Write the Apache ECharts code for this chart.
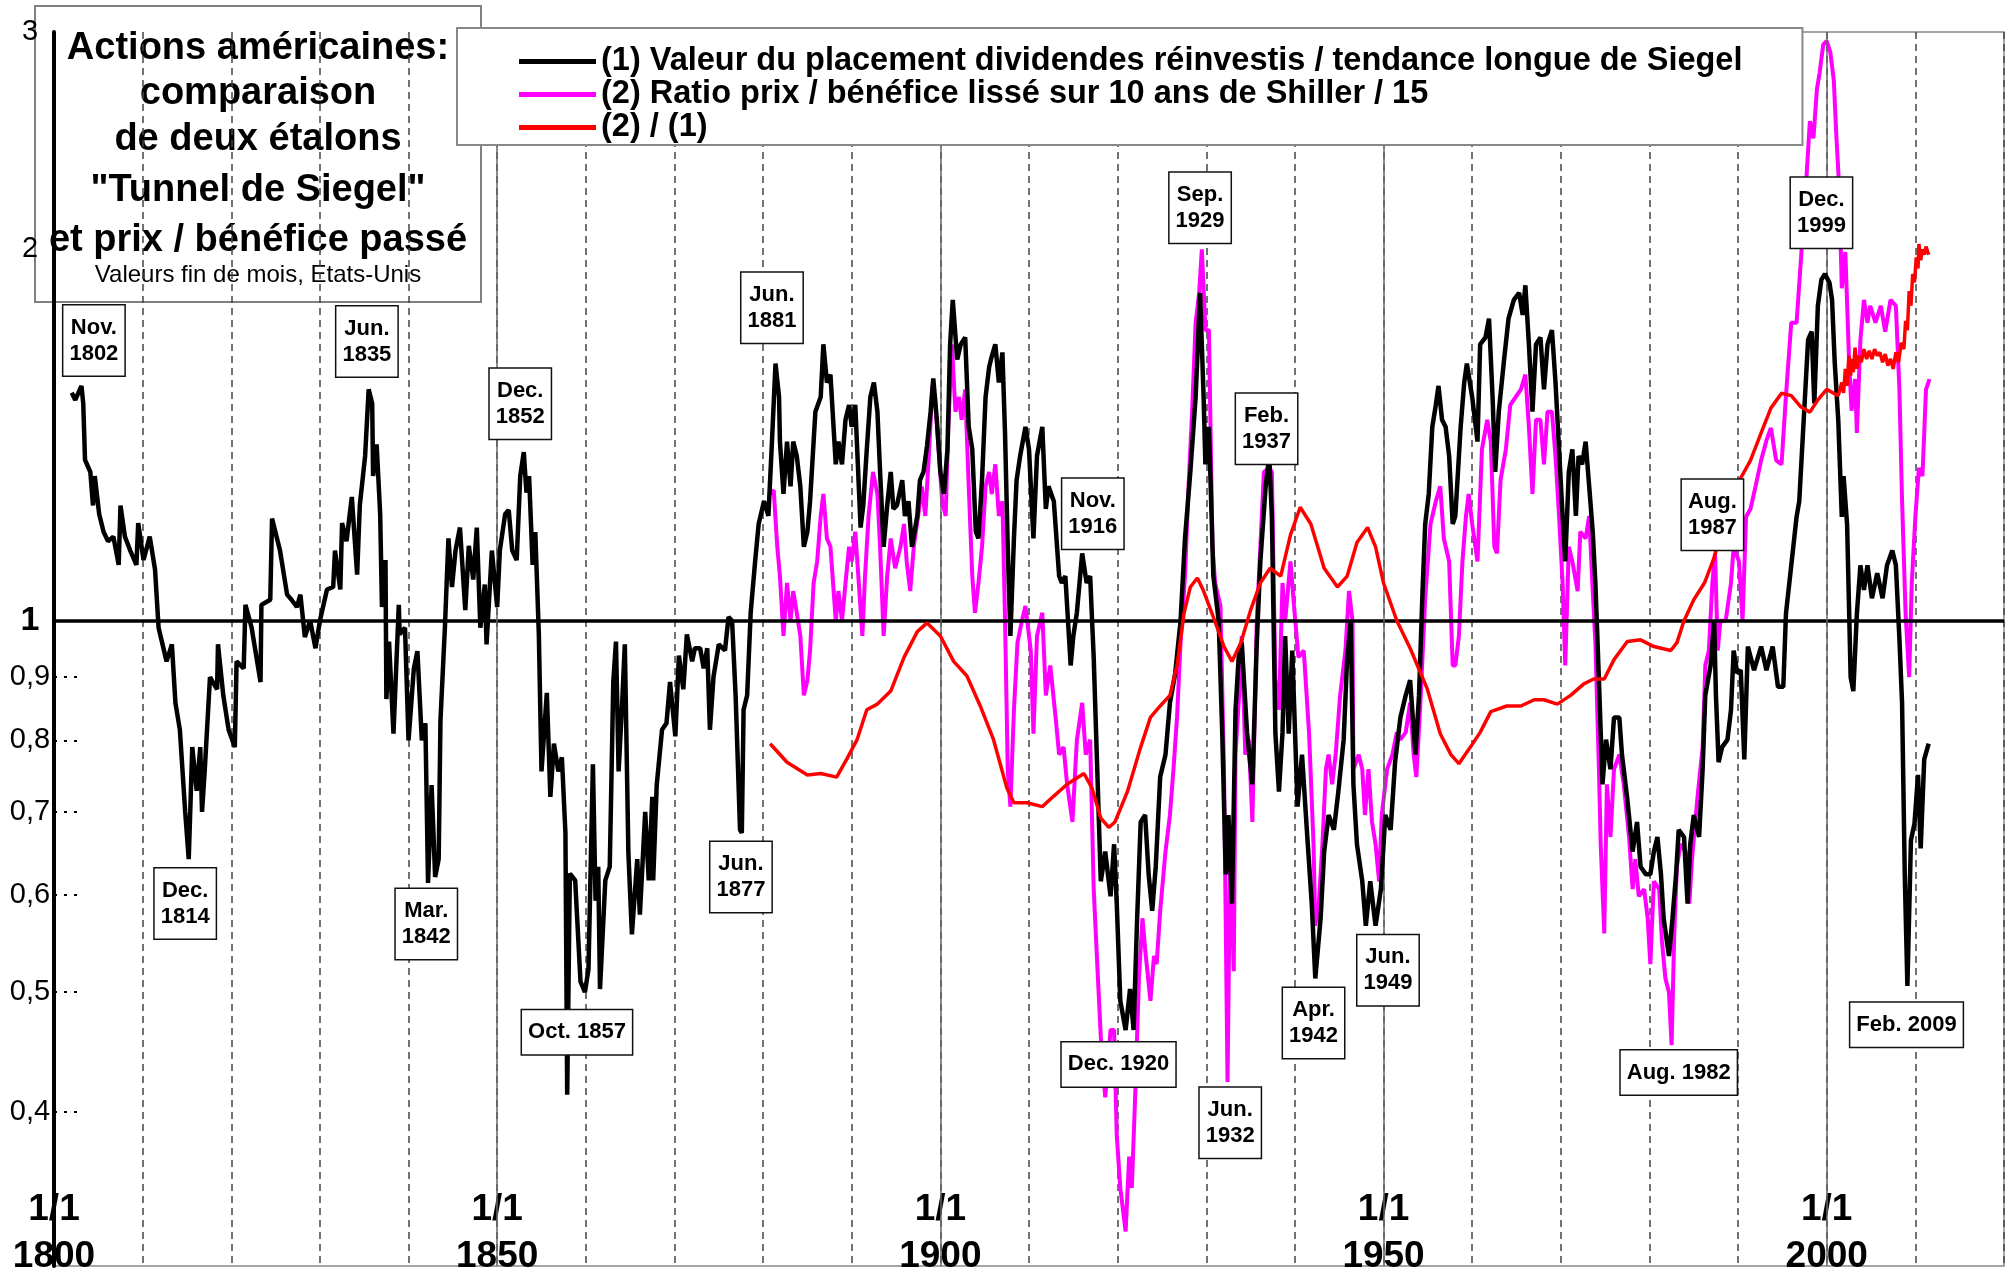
<!DOCTYPE html>
<html>
<head>
<meta charset="utf-8">
<script src="https://cdn.jsdelivr.net/npm/echarts@6/dist/echarts.min.js"></script>
<style>
html,body{margin:0;padding:0;background:#fff;}
#chart{width:2009px;height:1280px;}
</style>
</head>
<body>
<div id="chart"></div>
<script>
// ---------- DATA ----------
const seriesNames = [
  "(1) Valeur du placement dividendes réinvestis / tendance longue de Siegel",
  "(2) Ratio prix / bénéfice lissé sur 10 ans de Shiller / 15",
  "(2) / (1)"
];

// (1) black : [year, value]
const siegelRatio = [
[1802.0,1.53],[1802.4,1.51],[1803.1,1.55],[1803.3,1.50],[1803.5,1.35],[1804.1,1.32],[1804.4,1.24],[1804.6,1.31],
[1805.1,1.22],[1805.6,1.18],[1806.1,1.16],[1806.7,1.17],[1807.3,1.11],[1807.5,1.24],[1808.0,1.17],[1808.6,1.14],
[1809.3,1.11],[1809.5,1.20],[1810.1,1.12],[1810.8,1.17],[1811.4,1.10],[1811.8,0.987],[1812.7,0.927],[1813.3,0.957],
[1813.7,0.858],[1814.2,0.816],[1814.8,0.70],[1815.2,0.641],[1815.6,0.79],[1816.1,0.728],[1816.5,0.79],[1816.7,0.70],
[1817.0,0.755],[1817.6,0.90],[1818.4,0.88],[1818.5,0.957],[1819.1,0.87],[1819.7,0.816],[1820.4,0.79],[1820.6,0.927],
[1821.4,0.915],[1821.6,1.03],[1822.3,0.987],[1823.3,0.892],[1823.4,1.03],[1824.4,1.04],[1824.6,1.21],[1825.5,1.14],
[1826.3,1.05],[1826.8,1.04],[1827.4,1.026],[1827.8,1.05],[1828.3,0.97],[1828.9,1.0],[1829.5,0.95],[1830.0,1.0],
[1830.8,1.06],[1831.5,1.065],[1831.7,1.14],[1832.3,1.06],[1832.5,1.20],[1833.0,1.16],[1833.6,1.26],[1834.2,1.09],
[1834.5,1.24],[1835.1,1.36],[1835.5,1.54],[1835.9,1.50],[1836.0,1.31],[1836.4,1.39],[1836.8,1.22],[1837.0,1.026],
[1837.4,1.12],[1837.5,0.864],[1837.8,0.962],[1838.3,0.81],[1838.9,1.03],[1839.0,0.975],[1839.6,0.987],[1840.0,0.80],
[1840.6,0.915],[1841.0,0.945],[1841.5,0.80],[1841.9,0.826],[1842.2,0.613],[1842.6,0.736],[1843.0,0.62],[1843.4,0.641],
[1843.6,0.83],[1844.1,0.987],[1844.5,1.166],[1844.9,1.065],[1845.3,1.14],[1845.8,1.19],[1846.4,1.02],[1846.8,1.15],
[1847.3,1.08],[1847.7,1.19],[1848.1,0.987],[1848.6,1.07],[1848.8,0.957],[1849.4,1.14],[1850.0,1.026],[1850.3,1.14],
[1850.9,1.22],[1851.3,1.23],[1851.7,1.14],[1852.2,1.12],[1852.6,1.31],[1853.0,1.37],[1853.3,1.27],[1853.6,1.31],
[1854.0,1.11],[1854.3,1.18],[1854.7,0.975],[1855.0,0.755],[1855.6,0.874],[1856.0,0.72],[1856.4,0.795],[1856.9,0.755],
[1857.3,0.775],[1857.7,0.673],[1857.9,0.413],[1858.2,0.624],[1858.8,0.616],[1859.4,0.51],[1859.9,0.50],[1860.3,0.522],
[1860.8,0.765],[1861.1,0.593],[1861.4,0.632],[1861.6,0.503],[1862.2,0.616],[1862.7,0.632],[1863.1,0.892],[1863.4,0.962],
[1863.7,0.755],[1864.1,0.858],[1864.4,0.957],[1864.8,0.649],[1865.2,0.557],[1865.8,0.641],[1866.1,0.578],[1866.7,0.70],
[1867.1,0.616],[1867.5,0.72],[1867.6,0.616],[1868.0,0.736],[1868.6,0.816],[1869.1,0.826],[1869.5,0.892],[1870.1,0.806],
[1870.5,0.937],[1871.0,0.88],[1871.4,0.975],[1872.0,0.927],[1872.3,0.95],[1872.9,0.95],[1873.3,0.915],[1873.7,0.95],
[1874.0,0.816],[1874.4,0.90],[1875.0,0.957],[1875.2,0.96],[1875.7,0.946],[1876.1,1.007],[1876.5,1.0],[1876.9,0.87],
[1877.4,0.677],[1877.6,0.673],[1877.8,0.847],[1878.2,0.87],[1878.6,1.015],[1879.1,1.117],[1879.5,1.198],[1880.1,1.25],
[1880.6,1.216],[1881.0,1.397],[1881.4,1.616],[1881.8,1.518],[1881.9,1.397],[1882.3,1.267],[1882.7,1.397],[1883.1,1.285],
[1883.4,1.397],[1883.8,1.36],[1884.2,1.285],[1884.6,1.148],[1885.0,1.181],[1885.3,1.25],[1885.9,1.477],[1886.5,1.518],
[1886.8,1.675],[1887.2,1.56],[1887.6,1.583],[1888.2,1.339],[1888.5,1.397],[1888.9,1.339],[1889.3,1.455],[1889.7,1.496],
[1890.0,1.436],[1890.4,1.496],[1891.0,1.19],[1891.3,1.24],[1891.7,1.377],[1892.1,1.518],[1892.5,1.56],[1892.9,1.477],
[1893.2,1.32],[1893.6,1.148],[1894.0,1.24],[1894.4,1.32],[1894.7,1.232],[1895.1,1.24],[1895.7,1.30],[1896.0,1.216],
[1896.4,1.25],[1896.8,1.148],[1897.4,1.216],[1897.7,1.30],[1898.1,1.32],[1898.5,1.387],[1898.9,1.477],[1899.2,1.572],
[1899.6,1.455],[1900.0,1.32],[1900.4,1.267],[1900.8,1.377],[1901.1,1.675],[1901.4,1.82],[1901.9,1.628],[1902.3,1.675],
[1902.8,1.697],[1903.2,1.436],[1903.6,1.377],[1904.0,1.181],[1904.3,1.166],[1904.7,1.30],[1905.1,1.518],[1905.5,1.605],
[1905.8,1.638],[1906.2,1.675],[1906.6,1.56],[1907.0,1.65],[1907.3,1.415],[1907.6,1.148],[1907.9,0.972],[1908.3,1.166],
[1908.6,1.30],[1909.0,1.36],[1909.6,1.436],[1910.0,1.377],[1910.5,1.166],[1910.9,1.36],[1911.5,1.436],[1911.9,1.232],
[1912.2,1.285],[1912.8,1.25],[1913.4,1.087],[1913.7,1.073],[1914.1,1.087],[1914.7,0.92],[1915.0,0.972],[1915.4,1.015],
[1916.0,1.134],[1916.5,1.073],[1916.9,1.087],[1917.3,0.934],[1917.7,0.758],[1918.1,0.615],[1918.6,0.65],[1919.2,0.598],
[1919.6,0.659],[1919.9,0.59],[1920.3,0.492],[1920.9,0.466],[1921.4,0.503],[1921.8,0.466],[1922.2,0.574],[1922.6,0.687],
[1923.1,0.696],[1923.5,0.623],[1923.9,0.582],[1924.3,0.632],[1924.8,0.747],[1925.4,0.779],[1925.9,0.858],[1926.5,0.907],
[1927.1,1.0],[1927.6,1.166],[1928.2,1.32],[1928.8,1.518],[1929.3,1.844],[1929.7,1.518],[1929.9,1.339],[1930.3,1.436],
[1930.8,1.087],[1931.4,1.0],[1931.8,0.812],[1932.2,0.623],[1932.5,0.696],[1932.9,0.59],[1933.3,0.847],[1933.7,0.946],
[1934.0,0.96],[1934.6,0.812],[1935.2,0.737],[1935.7,0.96],[1936.1,1.117],[1936.7,1.285],[1937.1,1.36],[1937.4,1.216],
[1937.8,0.81],[1938.2,0.727],[1938.6,0.812],[1938.9,0.972],[1939.3,0.81],[1939.7,0.946],[1940.3,0.707],[1940.8,0.779],
[1941.4,0.668],[1941.9,0.59],[1942.3,0.513],[1942.9,0.574],[1943.3,0.65],[1943.8,0.696],[1944.4,0.677],[1944.9,0.727],
[1945.5,0.801],[1945.9,0.934],[1946.3,1.0],[1946.6,0.737],[1947.0,0.659],[1947.6,0.615],[1948.0,0.566],[1948.5,0.615],
[1949.1,0.566],[1949.7,0.606],[1950.2,0.696],[1950.8,0.677],[1951.3,0.768],[1951.9,0.835],[1952.5,0.87],[1953.0,0.895],
[1953.6,0.779],[1954.0,0.87],[1954.4,1.057],[1954.7,1.198],[1955.1,1.267],[1955.5,1.436],[1955.9,1.496],[1956.2,1.55],
[1956.6,1.455],[1957.0,1.436],[1957.4,1.36],[1957.8,1.198],[1958.1,1.216],[1958.7,1.436],[1959.1,1.56],[1959.4,1.616],
[1960.0,1.518],[1960.6,1.397],[1960.9,1.675],[1961.5,1.697],[1961.9,1.757],[1962.3,1.518],[1962.6,1.32],[1963.0,1.477],
[1963.6,1.628],[1964.1,1.757],[1964.7,1.82],[1965.3,1.844],[1965.7,1.77],[1966.0,1.87],[1966.4,1.675],[1966.8,1.477],
[1967.2,1.675],[1967.7,1.697],[1968.1,1.54],[1968.5,1.675],[1969.0,1.72],[1969.4,1.56],[1969.8,1.377],[1970.2,1.216],
[1970.5,1.117],[1970.9,1.32],[1971.3,1.377],[1971.7,1.216],[1972.0,1.36],[1972.4,1.339],[1972.8,1.397],[1973.2,1.285],
[1973.6,1.181],[1973.9,1.073],[1974.3,0.895],[1974.7,0.737],[1975.1,0.801],[1975.6,0.758],[1976.0,0.835],[1976.6,0.835],
[1976.9,0.779],[1977.5,0.717],[1978.1,0.65],[1978.6,0.687],[1979.0,0.632],[1979.6,0.623],[1980.1,0.623],[1980.5,0.65],
[1980.9,0.668],[1981.3,0.623],[1981.6,0.574],[1982.2,0.535],[1982.6,0.574],[1983.0,0.623],[1983.3,0.677],[1983.9,0.668],
[1984.3,0.59],[1984.6,0.659],[1985.0,0.696],[1985.6,0.668],[1986.0,0.758],[1986.3,0.87],[1986.9,0.92],[1987.3,1.0],
[1987.5,0.87],[1987.8,0.768],[1988.2,0.79],[1988.8,0.801],[1989.2,0.847],[1989.5,0.946],[1989.9,0.907],[1990.3,0.912],
[1990.7,0.772],[1991.1,0.953],[1991.8,0.912],[1992.6,0.953],[1993.2,0.912],[1993.9,0.953],[1994.5,0.884],[1995.1,0.884],
[1995.4,1.013],[1996.0,1.109],[1996.6,1.214],[1996.9,1.25],[1997.3,1.41],[1997.9,1.69],[1998.3,1.715],[1998.6,1.50],
[1999.0,1.80],[1999.4,1.89],[1999.8,1.91],[2000.3,1.88],[2000.6,1.82],[2000.9,1.62],[2001.3,1.455],[2001.7,1.214],
[2001.9,1.31],[2002.3,1.196],[2002.7,0.90],[2003.0,0.877],[2003.4,1.013],[2003.8,1.109],[2004.2,1.059],[2004.6,1.109],
[2005.1,1.043],[2005.7,1.093],[2006.3,1.043],[2006.8,1.109],[2007.4,1.14],[2007.8,1.109],[2008.2,0.967],[2008.5,0.858],
[2008.8,0.625],[2009.1,0.506],[2009.5,0.664],[2009.9,0.685],[2010.3,0.75],[2010.6,0.654],[2011.0,0.772],[2011.5,0.795]
];

// (2) magenta : Shiller CAPE / 15
const shillerRatio = [
[1880.8,1.267],[1881.2,1.276],[1881.6,1.148],[1881.9,1.087],[1882.3,0.972],[1882.7,1.073],[1883.1,1.0],[1883.4,1.057],
[1883.8,1.015],[1884.2,0.972],[1884.6,0.87],[1885.0,0.895],[1885.3,0.946],[1885.7,1.073],[1886.1,1.117],[1886.5,1.216],
[1886.8,1.267],[1887.2,1.166],[1887.6,1.148],[1888.2,1.0],[1888.5,1.057],[1888.9,1.0],[1889.3,1.073],[1889.7,1.148],
[1890.0,1.117],[1890.4,1.181],[1890.8,1.073],[1891.2,0.972],[1891.5,1.087],[1891.9,1.216],[1892.4,1.32],[1892.9,1.267],
[1893.2,1.148],[1893.6,0.972],[1894.0,1.087],[1894.4,1.166],[1894.9,1.103],[1895.5,1.148],[1895.9,1.198],[1896.2,1.117],
[1896.6,1.057],[1897.0,1.148],[1897.6,1.232],[1897.9,1.285],[1898.3,1.216],[1898.7,1.36],[1899.1,1.55],[1899.4,1.518],
[1899.8,1.377],[1900.2,1.25],[1900.6,1.216],[1900.9,1.436],[1901.3,1.675],[1901.7,1.477],[1902.1,1.518],[1902.4,1.455],
[1902.8,1.54],[1903.2,1.285],[1903.6,1.087],[1903.9,1.015],[1904.3,1.073],[1904.7,1.148],[1905.1,1.285],[1905.5,1.32],
[1905.8,1.267],[1906.2,1.339],[1906.6,1.216],[1907.0,1.25],[1907.3,1.0],[1907.6,0.758],[1907.9,0.707],[1908.3,0.847],
[1908.7,0.96],[1909.2,1.0],[1909.6,1.028],[1910.2,0.946],[1910.5,0.81],[1910.9,0.972],[1911.5,1.015],[1911.9,0.87],
[1912.4,0.92],[1913.0,0.835],[1913.4,0.779],[1913.9,0.79],[1914.3,0.737],[1914.9,0.687],[1915.4,0.80],[1916.0,0.858],
[1916.4,0.779],[1916.9,0.801],[1917.3,0.606],[1917.7,0.527],[1918.1,0.46],[1918.6,0.411],[1919.2,0.466],[1919.6,0.466],
[1919.9,0.383],[1920.3,0.347],[1920.9,0.32],[1921.3,0.368],[1921.6,0.347],[1922.0,0.416],[1922.4,0.513],[1922.8,0.574],
[1923.1,0.542],[1923.7,0.492],[1924.1,0.535],[1924.4,0.527],[1924.8,0.582],[1925.4,0.65],[1925.9,0.696],[1926.3,0.758],
[1926.7,0.835],[1927.1,0.96],[1927.6,1.087],[1928.0,1.285],[1928.4,1.477],[1928.8,1.744],[1929.2,1.844],[1929.5,2.0],
[1929.9,1.72],[1930.3,1.72],[1930.7,1.148],[1931.0,1.073],[1931.6,1.028],[1932.0,0.758],[1932.4,0.423],[1932.7,0.659],
[1933.1,0.52],[1933.3,0.779],[1933.7,0.87],[1934.0,0.972],[1934.4,0.779],[1934.8,0.801],[1935.2,0.687],[1935.7,1.0],
[1936.1,1.148],[1936.5,1.32],[1937.1,1.33],[1937.4,1.32],[1937.8,0.895],[1938.2,0.847],[1938.6,1.073],[1938.9,1.0],
[1939.5,1.117],[1939.9,1.028],[1940.4,0.934],[1941.0,0.946],[1941.6,0.81],[1942.1,0.659],[1942.3,0.566],[1942.7,0.59],
[1943.1,0.659],[1943.5,0.758],[1943.8,0.779],[1944.2,0.737],[1944.6,0.779],[1945.1,0.87],[1945.7,0.946],[1946.1,1.057],
[1946.5,1.0],[1946.6,0.758],[1947.2,0.779],[1947.6,0.758],[1947.9,0.696],[1948.3,0.758],[1948.7,0.687],[1949.1,0.659],
[1949.5,0.615],[1949.8,0.696],[1950.4,0.758],[1951.0,0.779],[1951.5,0.812],[1951.9,0.801],[1952.5,0.812],[1953.0,0.858],
[1953.4,0.779],[1953.7,0.747],[1954.2,0.87],[1954.7,1.043],[1955.3,1.198],[1955.9,1.25],[1956.4,1.285],[1956.8,1.166],
[1957.4,1.117],[1957.8,0.92],[1958.1,0.92],[1958.5,0.972],[1958.9,1.117],[1959.3,1.216],[1959.6,1.267],[1960.0,1.198],
[1960.6,1.117],[1961.1,1.377],[1961.7,1.455],[1962.1,1.397],[1962.5,1.148],[1962.8,1.134],[1963.2,1.30],[1963.8,1.377],
[1964.3,1.496],[1964.9,1.518],[1965.5,1.54],[1966.0,1.583],[1966.4,1.436],[1966.8,1.267],[1967.2,1.455],[1967.7,1.455],
[1968.1,1.339],[1968.5,1.477],[1969.0,1.477],[1969.4,1.36],[1969.8,1.216],[1970.2,1.073],[1970.5,0.92],[1970.9,1.148],
[1971.3,1.117],[1971.9,1.057],[1972.2,1.181],[1972.8,1.166],[1973.2,1.216],[1973.6,1.057],[1973.9,0.96],[1974.3,0.758],
[1974.5,0.659],[1974.9,0.558],[1975.2,0.737],[1975.6,0.668],[1976.0,0.758],[1976.6,0.779],[1977.1,0.737],[1977.7,0.668],
[1978.1,0.606],[1978.4,0.641],[1978.8,0.598],[1979.4,0.606],[1979.8,0.574],[1980.1,0.527],[1980.5,0.615],[1981.1,0.606],
[1981.4,0.551],[1981.8,0.513],[1982.2,0.50],[1982.5,0.453],[1982.8,0.558],[1983.1,0.632],[1983.5,0.659],[1984.1,0.65],
[1984.5,0.59],[1984.8,0.641],[1985.4,0.717],[1986.0,0.79],[1986.3,0.92],[1986.7,0.946],[1987.1,1.073],[1987.4,1.134],
[1987.7,0.946],[1988.0,1.0],[1988.6,1.0],[1989.2,1.073],[1989.5,1.148],[1990.1,1.117],[1990.5,1.0],[1990.9,1.214],
[1991.4,1.232],[1992.0,1.288],[1992.6,1.349],[1993.2,1.40],[1993.7,1.433],[1994.3,1.349],[1994.9,1.339],[1995.4,1.522],
[1996.0,1.744],[1996.6,1.744],[1997.1,1.967],[1997.7,2.28],[1998.1,2.54],[1998.5,2.46],[1998.9,2.70],[1999.2,2.78],
[1999.6,2.93],[2000.0,2.95],[2000.4,2.89],[2000.8,2.74],[2001.1,2.46],[2001.4,2.25],[2001.7,1.86],[2002.1,1.99],
[2002.5,1.64],[2002.8,1.48],[2003.2,1.57],[2003.4,1.42],[2003.8,1.69],[2004.2,1.82],[2004.6,1.744],[2004.9,1.80],
[2005.5,1.744],[2006.1,1.80],[2006.6,1.715],[2007.2,1.82],[2007.8,1.80],[2008.2,1.54],[2008.5,1.25],[2008.9,1.013],
[2009.3,0.90],[2009.6,1.075],[2010.0,1.214],[2010.4,1.33],[2010.8,1.31],[2011.2,1.54],[2011.6,1.57]
];

// (2)/(1) red
const ratioOfRatios = [
[1880.8,0.795],[1882.7,0.768],[1885.0,0.75],[1886.5,0.752],[1888.3,0.747],[1889.5,0.774],[1890.6,0.801],[1891.7,0.847],
[1892.9,0.856],[1894.4,0.877],[1895.9,0.934],[1897.4,0.98],[1898.5,0.996],[1900.0,0.972],[1901.5,0.927],[1903.0,0.902],
[1904.5,0.853],[1906.0,0.801],[1907.5,0.732],[1908.3,0.712],[1909.8,0.712],[1911.5,0.707],[1912.8,0.721],[1914.3,0.737],
[1916.2,0.752],[1917.1,0.732],[1918.1,0.692],[1919.0,0.68],[1919.7,0.687],[1921.1,0.727],[1922.6,0.79],[1923.7,0.835],
[1924.8,0.853],[1925.9,0.87],[1926.7,0.92],[1927.5,1.015],[1928.2,1.065],[1929.0,1.083],[1929.7,1.057],[1930.8,1.007],
[1932.0,0.953],[1932.9,0.927],[1933.9,0.96],[1935.0,1.02],[1936.1,1.073],[1937.2,1.103],[1938.4,1.087],[1939.5,1.174],
[1940.6,1.236],[1941.8,1.198],[1943.3,1.103],[1944.8,1.065],[1945.9,1.087],[1947.0,1.157],[1948.2,1.19],[1949.1,1.148],
[1950.0,1.073],[1951.5,1.0],[1953.0,0.95],[1954.9,0.882],[1956.4,0.81],[1957.6,0.779],[1958.5,0.766],[1959.8,0.79],
[1960.9,0.812],[1962.1,0.844],[1963.9,0.853],[1965.5,0.853],[1967.0,0.863],[1968.1,0.863],[1969.6,0.856],[1971.1,0.87],
[1972.6,0.889],[1973.7,0.897],[1974.9,0.897],[1976.0,0.93],[1977.5,0.962],[1979.0,0.965],[1980.5,0.953],[1982.4,0.946],
[1983.1,0.96],[1983.9,1.0],[1985.0,1.04],[1986.2,1.073],[1987.3,1.125],[1988.4,1.207],[1989.9,1.29],[1991.4,1.349],
[1992.6,1.42],[1993.7,1.487],[1994.9,1.529],[1996.0,1.522],[1997.1,1.49],[1998.1,1.476],[1999.0,1.51],[2000.0,1.54],
[2001.3,1.522],[2001.7,1.56],[2001.9,1.53],[2002.1,1.60],[2002.3,1.55],[2002.5,1.64],[2002.7,1.58],[2002.8,1.63],
[2003.0,1.59],[2003.2,1.665],[2003.4,1.60],[2003.6,1.64],[2003.9,1.62],[2004.2,1.66],[2004.5,1.63],[2004.8,1.655],
[2005.1,1.63],[2005.4,1.66],[2005.7,1.64],[2006.0,1.65],[2006.3,1.62],[2006.6,1.645],[2006.9,1.61],[2007.2,1.63],
[2007.5,1.60],[2007.8,1.65],[2008.1,1.62],[2008.4,1.68],[2008.7,1.66],[2008.9,1.75],[2009.1,1.72],[2009.3,1.85],
[2009.5,1.80],[2009.7,1.91],[2009.9,1.88],[2010.1,1.97],[2010.3,1.93],[2010.4,2.02],[2010.6,1.96],[2010.8,2.00],
[2011.0,1.98],[2011.2,2.01],[2011.5,1.98]
];

// annotation boxes: anchor year, anchor value (data space), text
const annoYears  = [1804.5, 1814.8, 1835.3, 1842.0, 1852.6, 1859.0, 1877.5, 1881.0, 1917.2, 1920.1, 1929.3, 1932.7, 1936.8, 1942.1, 1950.5, 1983.3, 1987.1, 1999.4, 2009.0];
const annoValues = [1.687, 0.59, 1.684, 0.568, 1.499, 0.464, 0.62, 1.793, 1.221, 0.437, 2.161, 0.392, 1.431, 0.472, 0.521, 0.4305, 1.219, 2.141, 0.4706];
const annoLabels = ["Nov.\n1802","Dec.\n1814","Jun.\n1835","Mar.\n1842","Dec.\n1852","Oct. 1857","Jun.\n1877","Jun.\n1881","Nov.\n1916","Dec. 1920","Sep.\n1929","Jun.\n1932","Feb.\n1937","Apr.\n1942","Jun.\n1949","Aug. 1982","Aug.\n1987","Dec.\n1999","Feb. 2009"];

// axis ticks
const yLabelValues = [0.4, 0.5, 0.6, 0.7, 0.8, 0.9, 1, 2, 3];
const yDotTickValues = [0.4, 0.5, 0.6, 0.7, 0.8, 0.9];
const xLabelYears = [1800, 1850, 1900, 1950, 2000];
const solidYears = [1850, 1900, 1950, 2000];

const titleLines = ["Actions américaines:", "comparaison", "de deux étalons", "\"Tunnel de Siegel\"", "et prix / bénéfice passé"];
const subtitle = "Valeurs fin de mois, Etats-Unis";

// ---------- CHART ----------
const FONT = "'Liberation Sans', Arial, sans-serif";
const chart = echarts.init(document.getElementById('chart'), null, {renderer: 'canvas'});

const annoData = annoYears.map((y, i) => ({value: [y, annoValues[i]], name: annoLabels[i]}));

const titleChildren = [{
  type: 'rect', shape: {x: 35, y: 6, width: 446, height: 296},
  style: {fill: '#fff', stroke: '#808080', lineWidth: 2}
}];
const titleYs = [49, 94, 140, 191, 241];
titleLines.forEach((t, i) => titleChildren.push({
  type: 'text', x: 258, y: titleYs[i],
  style: {text: t, fill: '#000', font: "bold 38px " + FONT, textAlign: 'center', textVerticalAlign: 'middle'}
}));
titleChildren.push({
  type: 'text', x: 258, y: 275,
  style: {text: subtitle, fill: '#000', font: "24px " + FONT, textAlign: 'center', textVerticalAlign: 'middle'}
});

const option = {
  backgroundColor: '#fff',
  animation: false,
  grid: {left: 54, right: 5, top: 32, bottom: 2, show: true, borderColor: '#888', borderWidth: 1.5, backgroundColor: 'transparent'},
  legend: {
    data: seriesNames, orient: 'vertical', left: 457, top: 28,
    itemWidth: 77, itemHeight: 5, itemGap: 0, icon: 'rect', selectedMode: false,
    padding: [17, 60, 1, 62],
    backgroundColor: '#fff', borderColor: '#888', borderWidth: 2,
    textStyle: {fontSize: 32.5, fontWeight: 'bold', fontFamily: FONT, color: '#000', lineHeight: 32},
    z: 20
  },
  xAxis: {
    type: 'value', min: 1800, max: 2020, interval: 10,
    axisLine: {show: false}, axisTick: {show: false},
    splitLine: {show: true, lineStyle: {type: [7, 5], color: '#444', width: 1.5}},
    axisLabel: {
      show: true, inside: true, margin: -14, customValues: xLabelYears, showMinLabel: true,
      formatter: v => '1/1\n' + Math.round(v),
      fontSize: 37, fontWeight: 'bold', fontFamily: FONT, color: '#000', lineHeight: 47
    }
  },
  yAxis: {
    type: 'log', logBase: 10, min: 0.3, max: 3,
    axisLine: {show: true, lineStyle: {color: '#000', width: 4}},
    axisTick: {show: true, inside: true, length: 26, customValues: yDotTickValues, lineStyle: {color: '#000', width: 2, type: [3, 7]}},
    splitLine: {show: false},
    axisLabel: {
      show: true, customValues: yLabelValues, margin: 24, align: 'center',
      formatter: v => {
        const r = Math.round(v * 10) / 10;
        if (r === 1) return '{b|1}';
        return String(r).replace('.', ',');
      },
      fontSize: 29, fontFamily: FONT, color: '#000',
      rich: {b: {fontSize: 34, fontWeight: 'bold', fontFamily: FONT, color: '#000'}}
    }
  },
  series: [
    {
      name: seriesNames[0], type: 'line', data: siegelRatio, showSymbol: false, symbol: 'none',
      color: '#000', lineStyle: {color: '#000', width: 4.5}, z: 5,
      markLine: {
        silent: true, symbol: 'none', label: {show: false}, animation: false,
        data: [
          {yAxis: 1, lineStyle: {color: '#000', width: 3.5, type: 'solid'}},
          ...solidYears.map(y => ({xAxis: y, lineStyle: {color: '#666', width: 1.5, type: 'solid'}}))
        ]
      }
    },
    {
      name: seriesNames[1], type: 'line', data: shillerRatio, showSymbol: false, symbol: 'none',
      color: '#ff00ff', lineStyle: {color: '#ff00ff', width: 4}, z: 4
    },
    {
      name: seriesNames[2], type: 'line', data: ratioOfRatios, showSymbol: false, symbol: 'none',
      color: '#ff0000', lineStyle: {color: '#ff0000', width: 3.5}, z: 6
    },
    {
      name: 'annotations', type: 'scatter', data: annoData, symbolSize: 1,
      itemStyle: {color: 'rgba(0,0,0,0)'}, z: 30, silent: true,
      label: {
        show: true, position: 'inside', formatter: '{b}',
        fontSize: 22, fontWeight: 'bold', fontFamily: FONT, color: '#000', lineHeight: 26, align: 'center',
        backgroundColor: '#ffffff', borderColor: '#111', borderWidth: 1.5, padding: [9, 6, 9, 6],
        opacity: 1
      },
      emphasis: {disabled: true},
      labelLayout: {hideOverlap: false}
    }
  ],
  graphic: [{type: 'group', z: 10, children: titleChildren}]
};
chart.setOption(option);
</script>
</body>
</html>
